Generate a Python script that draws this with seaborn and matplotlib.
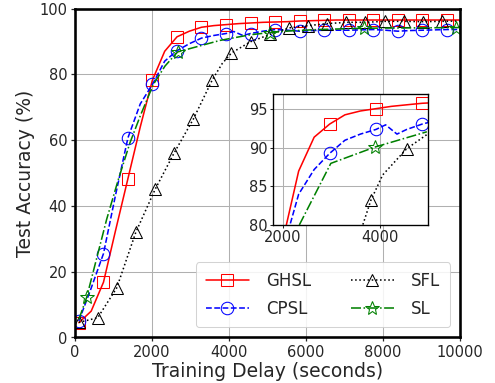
import matplotlib
matplotlib.use("Agg")
import matplotlib.pyplot as plt
import seaborn as sns
import pandas as pd

# ---------------- data ----------------
GHSL_T = [100, 420, 740, 1055, 1375, 1695, 2010, 2330, 2650, 2970, 3285, 3605, 3925, 4245,
          4560, 4880, 5200, 5520, 5835, 6155, 6475, 6790, 7110, 7430, 7750, 8065, 8385,
          8705, 9020, 9340, 9660, 9980]
GHSL_ACC = [4.5, 8.0, 16.8, 32.6, 48.3, 64.0, 78.2, 87.0, 91.4, 93.1, 94.3, 94.8, 95.1, 95.4,
            95.6, 95.8, 95.9, 96.0, 96.2, 96.3, 96.4, 96.5, 96.5, 96.5, 96.5, 96.5, 96.5,
            96.5, 96.5, 96.5, 96.5, 96.5]
GHSL_MAIN_MARKS = [0, 2, 4, 6, 8, 10, 12, 14, 16, 18, 20, 22, 24, 26, 28, 30]
GHSL_INSET_MARKS = [9, 12, 15]

CPSL_T = [100, 420, 740, 1055, 1375, 1695, 2010, 2330, 2650, 2970, 3285, 3605, 3925, 4125,
          4360, 4560, 4880, 5200, 5520, 5835, 6155, 6475, 6790, 7110, 7430, 7750, 8065,
          8385, 8705, 9020, 9340, 9660, 9980]
CPSL_ACC = [5.0, 15.0, 25.5, 43.4, 60.7, 71.0, 76.9, 84.0, 87.2, 89.3, 91.0, 91.8, 92.4, 93.0,
            91.8, 92.4, 93.1, 93.6, 93.4, 93.1, 93.3, 93.4, 93.4, 93.4, 93.5, 93.6, 93.4,
            93.1, 93.3, 93.4, 93.5, 93.6, 93.6]
CPSL_MAIN_MARKS = [0, 2, 4, 6, 8, 10, 12, 15, 17, 19, 21, 23, 25, 27, 29, 31]
CPSL_INSET_MARKS = [9, 12, 16]

SFL_T = [100, 590, 1085, 1580, 2080, 2575, 3070, 3570, 3820, 4065, 4560, 5060, 5555, 6055,
         6550, 7050, 7545, 8040, 8540, 9035, 9535, 10030]
SFL_ACC = [4.6, 6.0, 15.1, 32.0, 45.0, 56.1, 66.3, 78.4, 83.2, 86.5, 89.9, 92.1, 94.1, 94.8,
           95.4, 95.8, 95.8, 96.1, 96.1, 96.0, 96.1, 96.2]
SFL_MAIN_MARKS = [0, 1, 2, 3, 4, 5, 6, 7, 9, 10, 11, 12, 13, 14, 15, 16, 17, 18, 19, 20]
SFL_INSET_MARKS = [8, 10]

SL_T = [100, 303, 822, 1125, 1428, 1700, 2034, 2337, 2666, 3766, 4545, 5064, 5600, 6300,
        7500, 8700, 9900, 10000]
SL_ACC = [5.5, 12.2, 35.9, 48.0, 59.2, 67.5, 76.9, 82.5, 86.8, 90.3, 92.0, 92.7, 93.2, 93.6,
          94.0, 94.1, 94.2, 94.2]
SL_MAIN_MARKS = [1, 8, 11, 14, 16]

SL_INSET_T = [2100, 2343, 2994, 3897, 4977]
SL_INSET_ACC = [76.0, 80.0, 88.0, 90.1, 92.1]
SL_INSET_MARKS = [3]

LABELS = ["GHSL", "CPSL", "SFL", "SL"]

# ---------------- styling ----------------
sns.set_style("white")
plt.rcParams["font.family"] = ["DejaVu Sans"]

STYLES = {
    "GHSL": dict(color="red", linestyle="-", marker="s"),
    "CPSL": dict(color="blue", linestyle="--", marker="o"),
    "SFL": dict(color="black", linestyle=":", marker="^"),
    "SL": dict(color="green", linestyle="-.", marker="*"),
}

main_series = [
    ("GHSL", GHSL_T, GHSL_ACC, GHSL_MAIN_MARKS),
    ("CPSL", CPSL_T, CPSL_ACC, CPSL_MAIN_MARKS),
    ("SFL", SFL_T, SFL_ACC, SFL_MAIN_MARKS),
    ("SL", SL_T, SL_ACC, SL_MAIN_MARKS),
]
inset_series = [
    ("GHSL", GHSL_T, GHSL_ACC, GHSL_INSET_MARKS),
    ("CPSL", CPSL_T, CPSL_ACC, CPSL_INSET_MARKS),
    ("SFL", SFL_T, SFL_ACC, SFL_INSET_MARKS),
    ("SL", SL_INSET_T, SL_INSET_ACC, SL_INSET_MARKS),
]

fig = plt.figure(figsize=(6.6, 5.1067), dpi=75)
ax = fig.add_axes([0.1515, 0.1188, 0.7778, 0.859])


def draw(axis, series, ms, lw):
    for name, t, acc, marks in series:
        st = STYLES[name]
        df = pd.DataFrame({"t": t, "acc": acc})
        sns.lineplot(data=df, x="t", y="acc", ax=axis, sort=False, estimator=None,
                     errorbar=None, color=st["color"], linestyle=st["linestyle"],
                     marker=st["marker"], markevery=marks,
                     markersize=ms * (1.15 if st["marker"] == "*" else 1.0),
                     markerfacecolor="none", markeredgecolor=st["color"],
                     markeredgewidth=1.0, linewidth=lw, label=name, legend=False)


draw(ax, main_series, 12, 1.5)
ax.set_xlim(0, 10000)
ax.set_ylim(0, 100)
ax.set_xticks([0, 2000, 4000, 6000, 8000, 10000])
ax.set_yticks([0, 20, 40, 60, 80, 100])
ax.tick_params(labelsize=14, width=1.2, length=4, direction="out", bottom=True, left=True)
ax.grid(True, color="#b0b0b0", linewidth=1.0)
for sp in ax.spines.values():
    sp.set_linewidth(2.5)
    sp.set_color("black")
ax.set_xlabel("Training Delay (seconds)", fontsize=18, labelpad=2)
ax.set_ylabel("Test Accuracy (%)", fontsize=18, labelpad=4)

handles = ax.get_lines()[:4]
leg = ax.legend(handles=handles, labels=LABELS, loc="lower right", ncol=2, fontsize=16,
                handlelength=2.6, columnspacing=2.4, handletextpad=1.0, borderpad=0.6,
                borderaxespad=0.6, labelspacing=0.55, framealpha=0.85, edgecolor="#cccccc",
                fancybox=True)
leg.set_zorder(5)

# ---------------- inset ----------------
axin = fig.add_axes([0.5515, 0.4125, 0.3131, 0.342])
draw(axin, inset_series, 12, 1.5)
axin.set_xlim(1800, 5000)
axin.set_ylim(80, 97)
axin.set_xticks([2000, 4000])
axin.set_yticks([80, 85, 90, 95])
axin.set_xlabel("")
axin.set_ylabel("")
axin.tick_params(labelsize=14, width=1.0, length=3, pad=2, direction="out",
                 bottom=True, left=True)
axin.grid(True, color="#b0b0b0", linewidth=1.0)
for sp in axin.spines.values():
    sp.set_linewidth(1.3)
    sp.set_color("black")
axin.set_zorder(4)

fig.savefig("out.png", dpi=75)
